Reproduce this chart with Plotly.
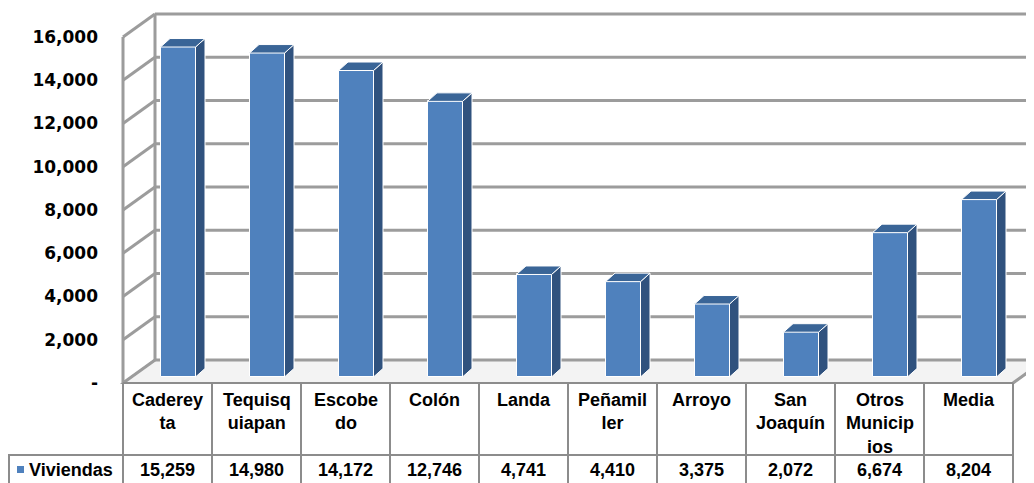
import plotly.graph_objects as go

# ---------------- data ----------------
categories = ["Cadereyta", "Tequisquiapan", "Escobedo", "Colón", "Landa",
              "Peñamiller", "Arroyo", "San Joaquín", "Otros Municipios", "Media"]
category_labels = ["Caderey<br>ta", "Tequisq<br>uiapan", "Escobe<br>do", "Colón", "Landa",
                   "Peñamil<br>ler", "Arroyo", "San<br>Joaquín", "Otros<br>Municip<br>ios", "Media"]
viviendas = [15259, 14980, 14172, 12746, 4741, 4410, 3375, 2072, 6674, 8204]
series_name = "Viviendas"
y_tick_values = [0, 2000, 4000, 6000, 8000, 10000, 12000, 14000, 16000]
y_tick_labels = ["-", "2,000", "4,000", "6,000", "8,000", "10,000", "12,000", "14,000", "16,000"]

# ---------------- geometry (page pixel layout -> axis units) ----------------
PAGE_W, PAGE_H = 1034, 483
OFF = 8  # default page margin of the html body
W, H = PAGE_W - OFF, PAGE_H - OFF
COL_W = 89.0
X0PX = 123.0
Y0PX = 383.0
K = 346.0 / 16000.0


def px_to_x(p):
    return (p - X0PX) / COL_W - 0.5


def py_to_y(p):
    return (Y0PX - p) / K


n = len(categories)
xs = list(range(n))
WALL_DX = 32 / COL_W
WALL_DY = 23 / K
BAR_DX = 10.5 / COL_W
BAR_BASE = 6 / K
BAR_W = 35 / COL_W
SIDE_DX = 9.5 / COL_W
SIDE_DY = 8.5 / K
X_LEFT = -0.5
X_RIGHT_FAR = px_to_x(PAGE_W + 60)
Y_MAX = y_tick_values[-1]

BLUE = "#4F81BD"
BLUE_SIDE = "#30527E"
BLUE_TOP = "#3A6597"
GRID = "#9C9C9C"
TABLE_LINE = "#8C8C8C"

shapes = []


def line(x0, y0, x1, y1, color=GRID, width=3, layer="below"):
    shapes.append(dict(type="line", xref="x", yref="y", x0=x0, y0=y0, x1=x1, y1=y1,
                       line=dict(color=color, width=width), layer=layer))


def poly(pts, fill, lc="white", lw=1, layer="below"):
    path = "M " + " L ".join(f"{a},{b}" for a, b in pts) + " Z"
    shapes.append(dict(type="path", xref="x", yref="y", path=path, fillcolor=fill,
                       line=dict(color=lc, width=lw), layer=layer))


# floor
poly([(X_LEFT, 0), (n - 0.5, 0), (n - 0.5 + WALL_DX, WALL_DY), (X_LEFT + WALL_DX, WALL_DY)],
     "#F3F3F3", lc=GRID, lw=2)

# walls: grid lines on left wall (diagonal) and back wall (horizontal)
for v in y_tick_values:
    line(X_LEFT, v, X_LEFT + WALL_DX, v + WALL_DY)
    line(X_LEFT + WALL_DX, v + WALL_DY, X_RIGHT_FAR, v + WALL_DY)
line(X_LEFT, 0, X_LEFT, Y_MAX)
line(X_LEFT + WALL_DX, WALL_DY, X_LEFT + WALL_DX, Y_MAX + WALL_DY)
line(n - 0.5, 0, n - 0.5 + WALL_DX, WALL_DY)

# bar side and top faces
for x, v in zip(xs, viviendas):
    xl = x + BAR_DX - BAR_W / 2
    xr = x + BAR_DX + BAR_W / 2
    top = v + BAR_BASE
    poly([(xr, BAR_BASE), (xr, top), (xr + SIDE_DX, top + SIDE_DY), (xr + SIDE_DX, BAR_BASE + SIDE_DY)],
         BLUE_SIDE, layer="above")
    poly([(xl, top), (xr, top), (xr + SIDE_DX, top + SIDE_DY), (xl + SIDE_DX, top + SIDE_DY)],
         BLUE_TOP, layer="above")

# data table lines
y_hdr_top = py_to_y(383)
y_sep = py_to_y(455)
y_bot = py_to_y(PAGE_H + 2)
line(X_LEFT, y_hdr_top, n - 0.5, y_hdr_top, TABLE_LINE, 2, "above")
line(px_to_x(8), y_sep, n - 0.5, y_sep, TABLE_LINE, 2, "above")
for k in range(n + 1):
    line(k - 0.5, y_hdr_top, k - 0.5, y_bot, TABLE_LINE, 2, "above")
line(px_to_x(9), y_sep, px_to_x(9), y_bot, TABLE_LINE, 2, "above")
# legend key square
shapes.append(dict(type="rect", xref="x", yref="y", x0=px_to_x(17), x1=px_to_x(24),
                   y0=py_to_y(473), y1=py_to_y(466), fillcolor=BLUE, line=dict(width=0),
                   layer="above"))

TABLE_FONT = dict(family="Liberation Sans, Arial, sans-serif", size=18, color="black", weight="bold")
annotations = []
for x, lab, v in zip(xs, category_labels, viviendas):
    annotations.append(dict(x=x, y=py_to_y(388), xref="x", yref="y", text=lab, showarrow=False,
                            xanchor="center", yanchor="top", align="center", font=TABLE_FONT))
    annotations.append(dict(x=x, y=py_to_y(470), xref="x", yref="y", text=f"{v:,}", showarrow=False,
                            xanchor="center", yanchor="middle", font=TABLE_FONT))
annotations.append(dict(x=px_to_x(27), y=py_to_y(470), xref="x", yref="y", text=series_name,
                        showarrow=False, xanchor="left", yanchor="middle", font=TABLE_FONT))

fig = go.Figure()
fig.add_trace(go.Bar(
    x=[x + BAR_DX for x in xs], y=viviendas, base=[BAR_BASE] * n, width=BAR_W,
    marker=dict(color=BLUE, line=dict(color="white", width=1)),
    name=series_name, hovertext=categories, showlegend=False, cliponaxis=False,
))

fig.update_layout(
    width=W, height=H, autosize=False,
    margin=dict(l=0, r=0, t=0, b=0, pad=0),
    paper_bgcolor="white", plot_bgcolor="white",
    showlegend=False,
    xaxis=dict(range=[px_to_x(OFF), px_to_x(PAGE_W)], visible=False, fixedrange=True),
    yaxis=dict(range=[py_to_y(PAGE_H), py_to_y(OFF)], anchor="free", position=(98 - OFF) / W,
               tickvals=y_tick_values, ticktext=y_tick_labels, ticks="",
               showgrid=False, zeroline=False, showline=False,
               tickfont=dict(family="DejaVu Sans, sans-serif", size=17, color="black", weight="bold")),
    shapes=shapes,
    annotations=annotations,
    bargap=0,
)

fig.write_html("out.html")
